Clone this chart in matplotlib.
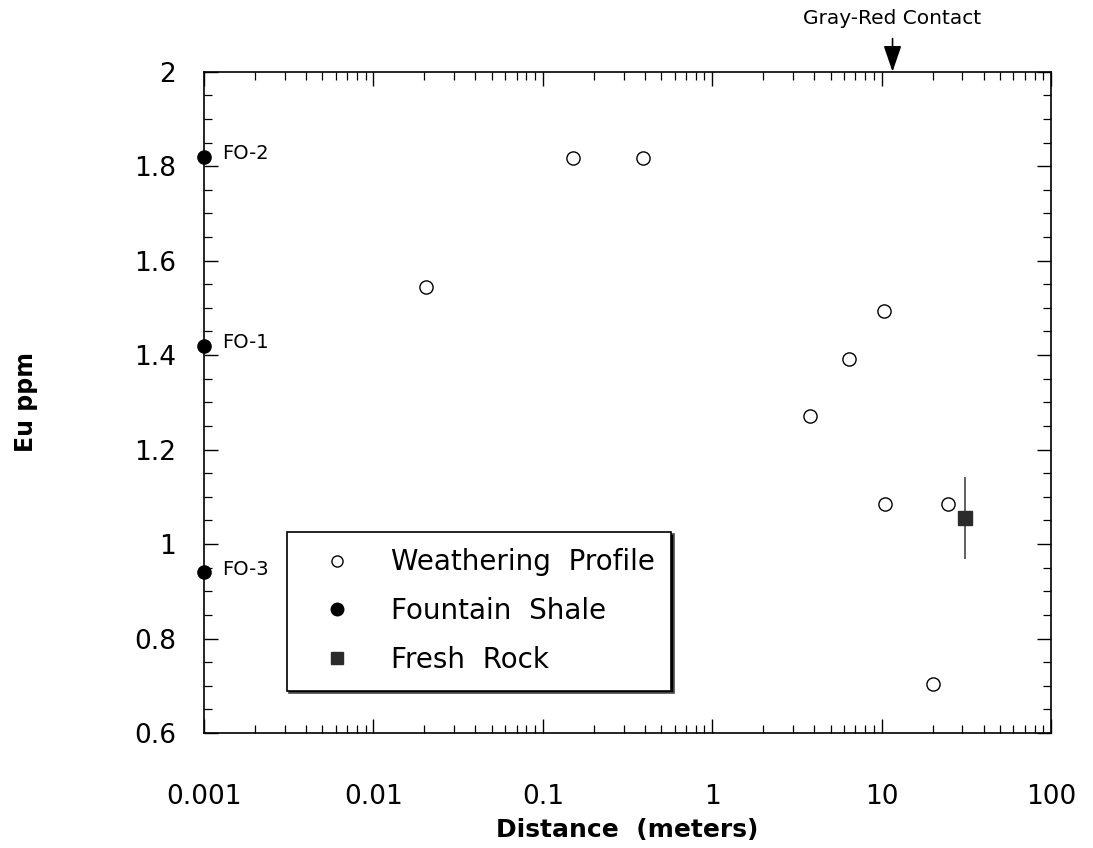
import matplotlib
matplotlib.use("Agg")
import matplotlib.pyplot as plt
from matplotlib.ticker import LogLocator, MultipleLocator, FixedLocator, FixedFormatter, NullFormatter

# ---- data ----
wp_x = [0.0204, 0.15, 0.39, 3.78, 6.44, 10.4, 10.5, 24.8, 20.0]
wp_y = [1.544, 1.817, 1.817, 1.272, 1.392, 1.494, 1.084, 1.084, 0.704]

fs_x = [0.001, 0.001, 0.001]
fs_y = [1.82, 1.42, 0.94]
fs_labels = ["FO-2", "FO-1", "FO-3"]

fr_x = [31.0]
fr_y = [1.055]
fr_err = [0.086]

contact_x = 11.6

xticks = [0.001, 0.01, 0.1, 1, 10, 100]
xticklabels = ["0.001", "0.01", "0.1", "1", "10", "100"]
yticks = [0.6, 0.8, 1.0, 1.2, 1.4, 1.6, 1.8, 2.0]
yticklabels = ["0.6", "0.8", "1", "1.2", "1.4", "1.6", "1.8", "2"]

plt.rcParams['font.family'] = ['DejaVu Sans']

fig = plt.figure(figsize=(10.93, 8.48), dpi=100)
ax = fig.add_axes([0.1866, 0.1356, 0.9616 - 0.1866, 0.9155 - 0.1356])

ax.set_xscale('log')
ax.set_xlim(0.001, 100)
ax.set_ylim(0.6, 2.0)

# weathering profile
ax.plot(wp_x, wp_y, linestyle='none', marker='o', markersize=9.5,
        markerfacecolor='white', markeredgecolor='black', markeredgewidth=1.0,
        label='Weathering  Profile', zorder=3)
# fountain shale
ax.plot(fs_x, fs_y, linestyle='none', marker='o', markersize=9.5,
        markerfacecolor='black', markeredgecolor='black',
        label='Fountain  Shale', clip_on=False, zorder=4)
for xx, yy, lab in zip(fs_x, fs_y, fs_labels):
    ax.annotate(lab, (xx, yy), xytext=(13, 2), textcoords='offset points',
                ha='left', va='center', fontsize=14)
# fresh rock
ax.errorbar(fr_x, fr_y, yerr=fr_err, fmt='none', ecolor='#444444',
            elinewidth=1.2, capsize=0, zorder=3)
ax.plot(fr_x, fr_y, linestyle='none', marker='s', markersize=9.5,
        markerfacecolor='#2b2b2b', markeredgecolor='#2b2b2b',
        label='Fresh  Rock', zorder=4)

# ticks
ax.xaxis.set_major_locator(FixedLocator(xticks))
ax.xaxis.set_major_formatter(FixedFormatter(xticklabels))
ax.xaxis.set_minor_locator(LogLocator(base=10, subs=range(2, 10)))
ax.xaxis.set_minor_formatter(NullFormatter())
ax.yaxis.set_major_locator(FixedLocator(yticks))
ax.yaxis.set_major_formatter(FixedFormatter(yticklabels))
ax.yaxis.set_minor_locator(MultipleLocator(0.05))

ax.tick_params(which='both', direction='in', top=True, right=True, color='black')
ax.tick_params(which='major', length=10, width=1.0)
ax.tick_params(which='minor', length=6, width=0.9)
ax.tick_params(axis='x', which='major', labelsize=19, pad=37)
ax.tick_params(axis='y', which='major', labelsize=19, pad=20)

for s in ax.spines.values():
    s.set_linewidth(1.2)
    s.set_color('black')

ax.set_xlabel('Distance  (meters)', fontsize=18, fontweight='bold')
ax.set_ylabel('Eu ppm', fontsize=17, fontweight='bold')
ax.xaxis.set_label_coords(0.5, -0.1285)
ax.yaxis.set_label_coords(-0.196, 0.5)

# Gray-Red contact arrow
ax.annotate('', xy=(contact_x, 2.0), xycoords=('data', 'data'),
            xytext=(contact_x, 2.07), textcoords=('data', 'data'),
            arrowprops=dict(arrowstyle='-|>,head_length=1.6,head_width=0.55',
                            color='black', lw=1.2, shrinkA=0, shrinkB=0),
            annotation_clip=False)
ax.text(contact_x, 2.093, 'Gray-Red Contact', ha='center', va='bottom',
        fontsize=14.5, transform=ax.transData, clip_on=False)

leg = ax.legend(loc='lower left', bbox_to_anchor=(0.0976, 0.064),
                borderaxespad=0, fontsize=20, frameon=True, fancybox=False,
                shadow={'facecolor': 'black', 'alpha': 1.0},
                edgecolor='black', framealpha=1, borderpad=0.6,
                handlelength=2.4, handletextpad=0.75, labelspacing=0.75,
                markerscale=0.95)
leg.get_frame().set_linewidth(1.2)
leg.get_lines()[0].set_markersize(8)

fig.savefig('out.png', dpi=100)
